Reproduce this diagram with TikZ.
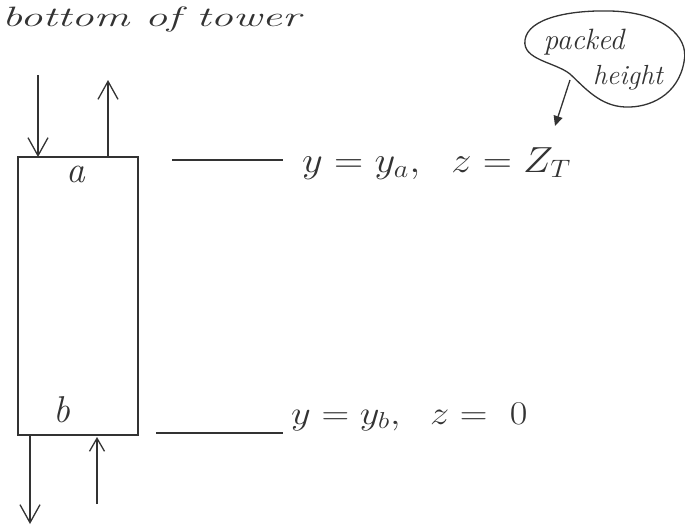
\documentclass[tikz,border=0pt]{standalone}
\usetikzlibrary{arrows.meta}
\begin{document}
\begin{tikzpicture}[x=1pt,y=-1pt,
  ink/.style={draw=black!80,line width=1.3pt},
  flow/.style={ink,-{Straight Barb[length=18pt,width=20pt]}},
  flowsmall/.style={ink,-{Straight Barb[length=13pt,width=15pt]}},
  hand/.style={text=black!80,inner sep=0pt},
  eq/.style={text=black!80,inner sep=0pt,anchor=base west}]
\useasboundingbox (0,0) rectangle (685,527);
% title
\node[hand,anchor=base west] (title) at (2,27) {\scalebox{2.15}[1.35]{\huge\itshape bottom\ of\ tower}};
% tower
\node[ink,minimum width=120pt,minimum height=278pt,inner sep=0pt] (tower) at (78,296) {};
\node[hand,anchor=base] (la) at (76,182) {\scalebox{1.8}{\huge\itshape a}};
\node[hand,anchor=base] (lb) at (62,422) {\scalebox{1.8}{\huge\itshape b}};
% top streams
\coordinate (inT) at (38,75);
\coordinate (inTe) at (38,157);
\draw[flow] (inT) -- (inTe);
\coordinate (outTs) at (108,157);
\coordinate (outT) at (108,80);
\draw[flow] (outTs) -- (outT);
% bottom streams
\coordinate (outBs) at (30,435);
\coordinate (outB) at (30,524);
\draw[flow] (outBs) -- (outB);
\coordinate (inB) at (97,504);
\coordinate (inBe) at (97,437);
\draw[flowsmall] (inB) -- (inBe);
% top level
\coordinate (lt1) at (172,160);
\coordinate (lt2) at (283,160);
\node[eq] (eqa) at (302,172) {\scalebox{1.95}[1.75]{\huge$y = y_a,\ \ z = Z_T$}};
\draw[ink] (lt1) -- (lt2);
% bottom level
\coordinate (lb1) at (156,433);
\coordinate (lb2) at (283,433);
\node[eq] (eqb) at (291,424) {\scalebox{1.85}[1.6]{\huge$y = y_b,\ \ z = \ 0$}};
\draw[ink] (lb1) -- (lb2);
% bubble
\draw[ink] (570,74) .. controls (555,62) and (522,60) .. (525,40)
  .. controls (528,18) and (570,10) .. (610,11)
  .. controls (660,12) and (690,35) .. (684,62)
  .. controls (678,95) and (650,108) .. (625,107)
  .. controls (600,106) and (585,88) .. (570,74) -- cycle;
\node[hand] (bp) at (584,42) {\scalebox{1.7}{\LARGE\itshape packed}};
\node[hand] (bh) at (628,78) {\scalebox{1.6}{\LARGE\itshape height}};
\coordinate (tail) at (570,80);
\coordinate (tip) at (555,126);
\draw[ink,-{Triangle[length=10pt,width=9pt]}] (tail) -- (tip);
\end{tikzpicture}
\end{document}
